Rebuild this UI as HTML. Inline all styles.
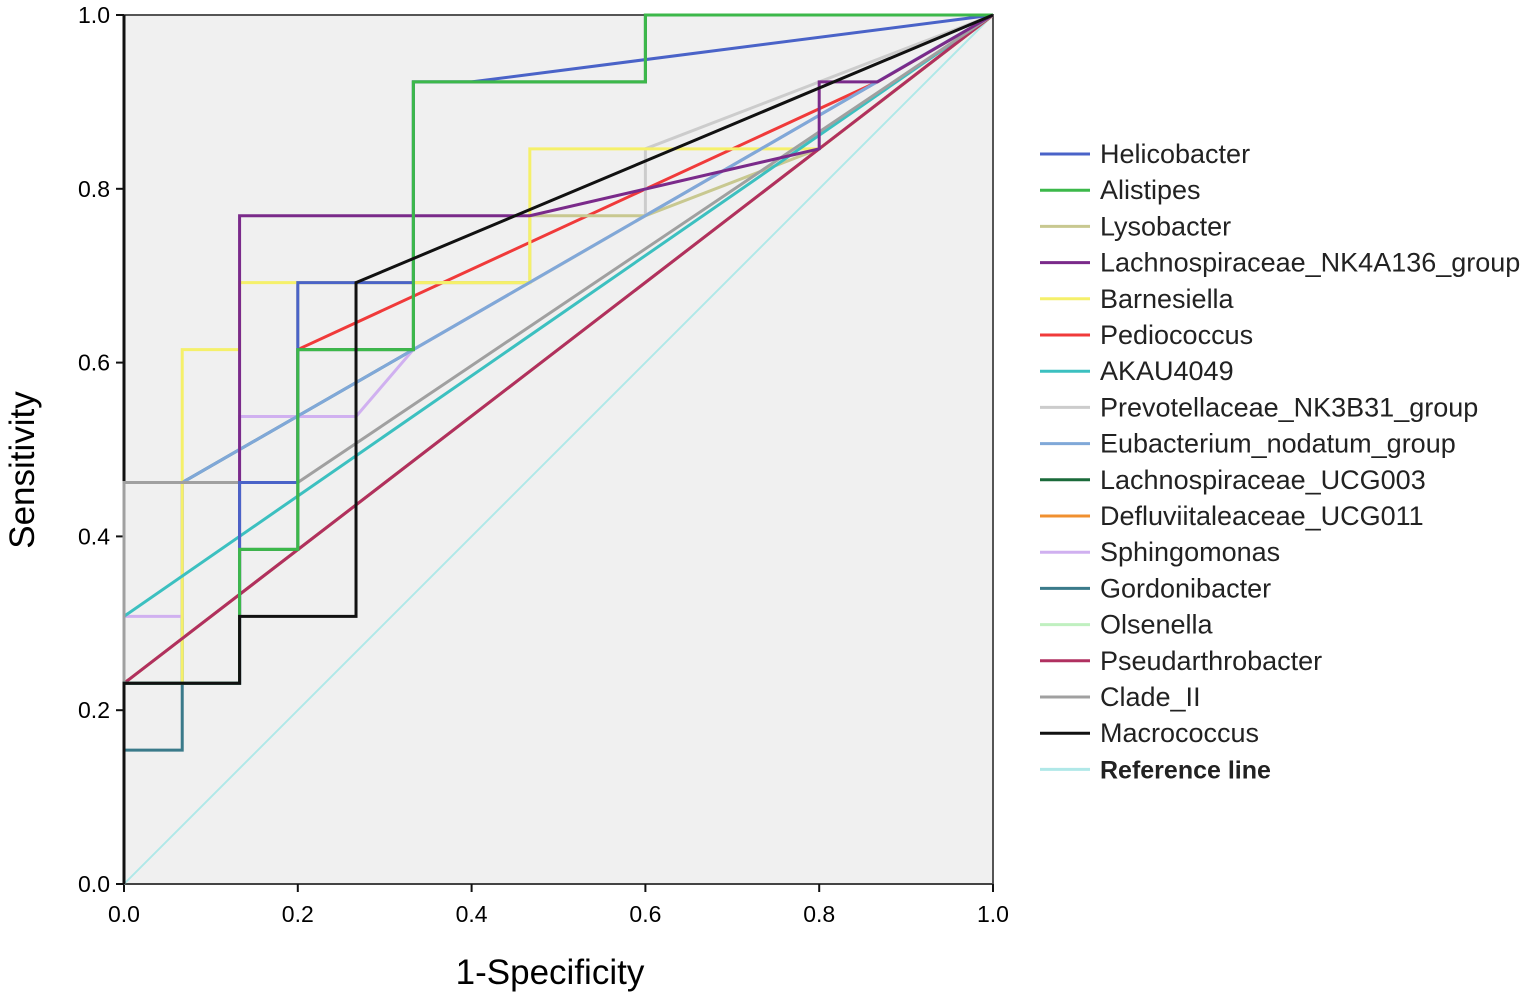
<!DOCTYPE html>
<html><head><meta charset="utf-8"><style>
body{margin:0;background:#fff;}
svg text{font-family:"Liberation Sans",sans-serif;}
</style></head><body>
<svg width="1535" height="1000">
<rect x="124" y="15" width="869" height="869" fill="#f0f0f0" stroke="#555" stroke-width="2"/>
<g id="axes"></g><g id="series"></g><g id="legend"></g>
<text x="550" y="984" font-size="35" text-anchor="middle">1-Specificity</text>
<text transform="translate(34,470) rotate(-90)" font-size="35" text-anchor="middle">Sensitivity</text>
</svg>
<script>
const ticks=[0,0.2,0.4,0.6,0.8,1.0];
const tickLabels=["0.0","0.2","0.4","0.6","0.8","1.0"];
const names=["Helicobacter","Alistipes","Lysobacter","Lachnospiraceae_NK4A136_group","Barnesiella","Pediococcus","AKAU4049","Prevotellaceae_NK3B31_group","Eubacterium_nodatum_group","Lachnospiraceae_UCG003","Defluviitaleaceae_UCG011","Sphingomonas","Gordonibacter","Olsenella","Pseudarthrobacter","Clade_II","Macrococcus","Reference line"];
const colors=["#4a63c8","#3cb84a","#c8c890","#7a2a8a","#f5f06a","#f03a3a","#3cc0c0","#cccccc","#80a8d8","#1a6a3a","#f09030","#d0b0f0","#3a7a8a","#c0f0c0","#b03060","#a0a0a0","#111111","#b0e8e8"];
const fpr=[
[0,0,0.133,0.133,0.2,0.2,0.333,0.333,0.4,1],
[0,0,0.133,0.133,0.2,0.2,0.333,0.333,0.6,0.6,1],
[0,0,0.2,0.2,0.467,0.467,0.6,0.8,1],
[0,0,0.133,0.133,0.467,0.8,0.8,0.867,1],
[0,0,0.067,0.067,0.133,0.133,0.467,0.467,0.8,1],
[0,0,0.2,0.2,0.867,1],
[0,0,1],
[0,0,0.2,0.2,0.467,0.6,0.6,1],
[0,0,0.067,0.333,1],
[0,0,0.133,0.133,0.2,0.2,0.333,0.333,0.6,0.6,1],
[0,0,0.8,1],
[0,0,0.067,0.067,0.133,0.133,0.267,0.333,1],
[0,0,0.067,0.067,0.333,1],
[0,0,0.8,1],
[0,0,0.8,1],
[0,0,0.2,1],
[0,0,0.133,0.133,0.267,0.267,1],
[0,1]];
const tpr=[
[0,0.231,0.231,0.462,0.462,0.692,0.692,0.923,0.923,1],
[0,0.231,0.231,0.385,0.385,0.615,0.615,0.923,0.923,1,1],
[0,0.462,0.462,0.692,0.692,0.769,0.769,0.846,1],
[0,0.231,0.231,0.769,0.769,0.846,0.923,0.923,1],
[0,0.231,0.231,0.615,0.615,0.692,0.692,0.846,0.846,1],
[0,0.462,0.462,0.615,0.923,1],
[0,0.308,1],
[0,0.462,0.462,0.692,0.692,0.769,0.846,1],
[0,0.462,0.462,0.615,1],
[0,0.231,0.231,0.385,0.385,0.615,0.615,0.923,0.923,1,1],
[0,0.231,0.846,1],
[0,0.308,0.308,0.462,0.462,0.538,0.538,0.615,1],
[0,0.154,0.154,0.462,0.615,1],
[0,0.231,0.846,1],
[0,0.231,0.846,1],
[0,0.462,0.462,1],
[0,0.231,0.231,0.308,0.308,0.692,1],
[0,1]];
const NS="http://www.w3.org/2000/svg";
const X=v=>124+v*869, Y=v=>884-v*869;
function mk(t,a,p){const e=document.createElementNS(NS,t);for(const k in a)e.setAttribute(k,a[k]);p.appendChild(e);return e;}
const ax=document.getElementById('axes');
mk('line',{x1:124,y1:15,x2:124,y2:884,stroke:'#111','stroke-width':3},ax);
mk('line',{x1:124,y1:884,x2:993,y2:884,stroke:'#444','stroke-width':2},ax);
ticks.forEach((t,i)=>{
 let l=mk('line',{x1:116,y1:Y(t),x2:124,y2:Y(t),stroke:'#111','stroke-width':2},ax);
 
 
 let tx=mk('text',{x:110,y:Y(t)+8,'font-size':23,'text-anchor':'end'},ax);tx.textContent=tickLabels[i];
 
 
 let l2=mk('line',{x1:X(t),y1:884,x2:X(t),y2:892,stroke:'#111','stroke-width':2},ax);
 
 
 let t2=mk('text',{x:X(t),y:922,'font-size':23,'text-anchor':'middle'},ax);t2.textContent=tickLabels[i];
 
 
});
const sg=document.getElementById('series'), lg=document.getElementById('legend');
const order=[17,13,10,12,5,11,7,2,4,8,6,14,15,9,3,0,1,16];
order.forEach(i=>{
 const pts=fpr[i].map((f,j)=>X(f)+','+Y(tpr[i][j])).join(' ');
 const p=mk('polyline',{points:pts,fill:'none',stroke:colors[i],'stroke-width':i==17?2:3},sg);
 
 
});
names.forEach((n,i)=>{
 const y=154+i*36.2;
 const g=mk('g',{},lg);
 
 
 mk('line',{x1:1040,y1:y,x2:1090,y2:y,stroke:colors[i],'stroke-width':3},g);
 const t=mk('text',{x:1100,y:y+9,'font-size':i==17?25:27,'font-weight':i==17?'bold':'normal',fill:'#222'},g);t.textContent=n;
});
</script>
</body></html>
